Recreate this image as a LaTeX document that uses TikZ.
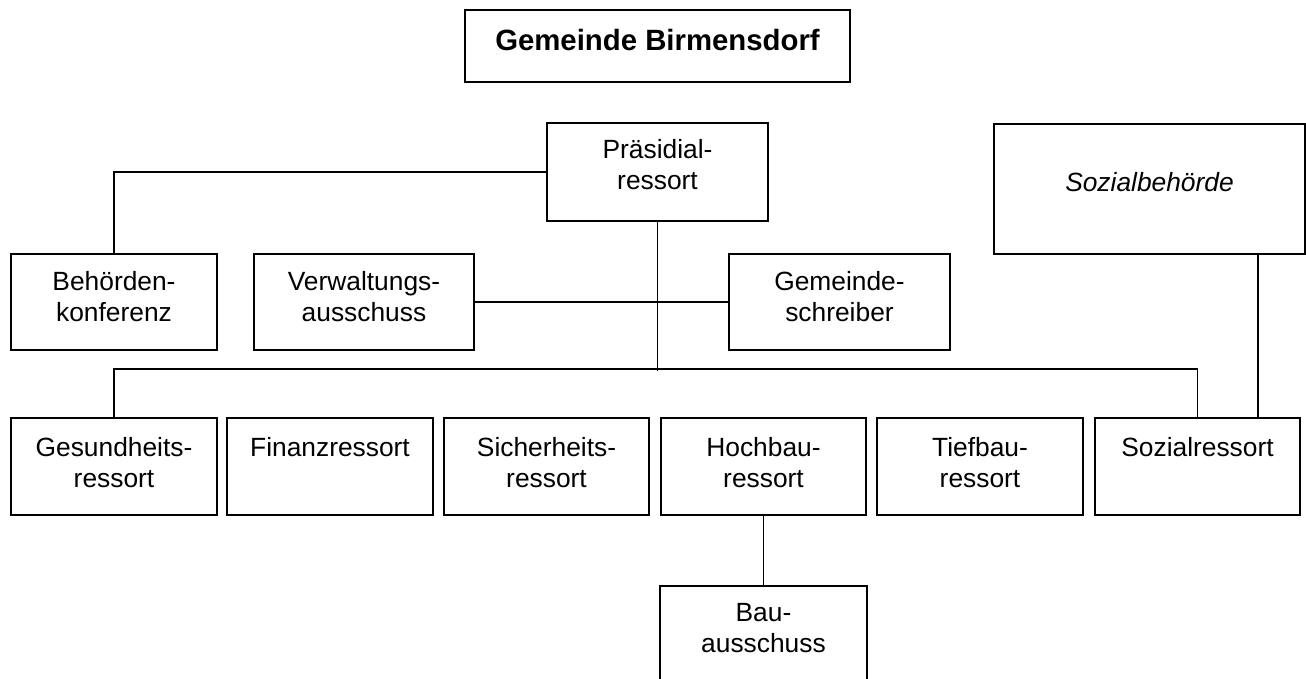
\documentclass[tikz,border=0pt]{standalone}
\usepackage{fontspec}
\setmainfont{Liberation Sans}
\usepackage{tikz}
\usetikzlibrary{positioning}

% text block top-aligned inside a box: width, height, first baseline, lines
\newcommand{\boxtext}[4]{\parbox[c][#2][t]{#1}{\centering\rule{0pt}{#3}#4}}

\begin{document}
\begin{tikzpicture}[x=0.02cm, y=-0.02cm,
            bx/.style={draw, line width=1.1pt, inner sep=0pt, outer sep=0pt,
                       font=\fontsize{15}{18.2}\selectfont},
            ln/.style={draw, line width=1.1pt}
          ]
          \useasboundingbox (0,0) rectangle (1306,679);

          % top
          \node[bx, font=\fontsize{16.7}{20}\selectfont\bfseries] (gem) at (657.5,46)
                {\boxtext{7.7cm}{1.44cm}{0.82cm}{Gemeinde Birmensdorf}};
          \node[bx] (pres) at (657.5,172)
                {\boxtext{4.42cm}{1.96cm}{0.70cm}{Präsidial-\\ressort}};
          \node[bx, font=\fontsize{15}{18.2}\selectfont\itshape] (sozb) at (1149.5,189)
                {\boxtext{6.22cm}{2.6cm}{1.36cm}{Sozialbehörde}};

          % second row
          \node[bx] (behk) at (114,302)
                {\boxtext{4.12cm}{1.92cm}{0.72cm}{Behörden-\\konferenz}};
          \node[bx] (verw) at (364,302)
                {\boxtext{4.4cm}{1.92cm}{0.72cm}{Verwaltungs-\\ausschuss}};
          \node[bx] (gschr) at (839.5,302)
                {\boxtext{4.42cm}{1.92cm}{0.72cm}{Gemeinde-\\schreiber}};

          % ressorts
          \node[bx] (gesr) at (114,466.5)
                {\boxtext{4.12cm}{1.94cm}{0.76cm}{Gesundheits-\\ressort}};
          \node[bx] (finr) at (330,466.5)
                {\boxtext{4.12cm}{1.94cm}{0.76cm}{Finanzressort}};
          \node[bx] (sicr) at (546.5,466.5)
                {\boxtext{4.1cm}{1.94cm}{0.76cm}{Sicherheits-\\ressort}};
          \node[bx] (hocr) at (763.5,466.5)
                {\boxtext{4.1cm}{1.94cm}{0.76cm}{Hochbau-\\ressort}};
          \node[bx] (tiefr) at (980,466.5)
                {\boxtext{4.12cm}{1.94cm}{0.76cm}{Tiefbau-\\ressort}};
          \node[bx] (sozr) at (1197.5,466.5)
                {\boxtext{4.1cm}{1.94cm}{0.76cm}{Sozialressort}};

          \node[bx] (baua) at (763.5,634)
                {\boxtext{4.14cm}{1.92cm}{0.70cm}{Bau-\\ausschuss}};

          % connectors
          \coordinate (bus) at (657.5,369);
          \coordinate (sbx) at (1258,0);
          \draw[ln] (pres.west) -| (behk.north);
          \draw[ln] (pres.south) -- ([yshift=-1pt]bus);
          \draw[ln] (verw.east) -- (gschr.west);
          \draw[ln] (gesr.north) |- (bus) -| (sozr.north);
          \draw[ln] (sozb.south -| sbx) -- (sozr.north -| sbx);
          \draw[ln] (hocr.south) -- (baua.north);
        \end{tikzpicture}
\end{document}
